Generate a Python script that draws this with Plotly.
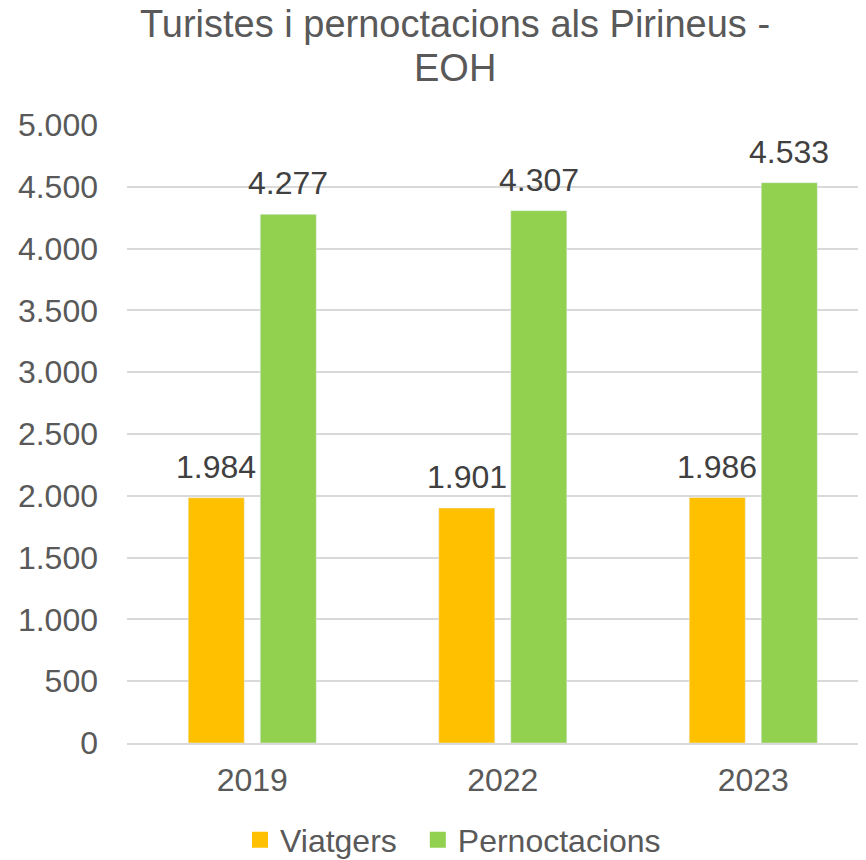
import plotly.graph_objects as go

years = ["2019", "2022", "2023"]
viatgers = [1984, 1901, 1986]
pernoctacions = [4277, 4307, 4533]
viatgers_labels = ["1.984", "1.901", "1.986"]
pernoctacions_labels = ["4.277", "4.307", "4.533"]
tick_vals = [0, 500, 1000, 1500, 2000, 2500, 3000, 3500, 4000, 4500, 5000]
tick_text = ["0", "500", "1.000", "1.500", "2.000", "2.500", "3.000", "3.500", "4.000", "4.500", "5.000"]
title_lines = ["Turistes i pernoctacions als Pirineus -", "EOH"]
series_names = ["Viatgers", "Pernoctacions"]

FONT = "Liberation Sans, Arial, sans-serif"
GREY = "#595959"
DARK = "#404040"
ORANGE = "#FFC000"
GREEN = "#92D050"

# page body has an 8px margin: figure origin sits at (8, 8) in the window
OFF = 8
W, H = 866 - OFF, 860 - OFF
PL, PR, PT, PB = 127 - OFF, 866 - OFF, 125 - OFF, 743 - OFF  # plot area in figure coords
PW, PH = PR - PL, PB - PT


def py(y_screen):
    return (743 - y_screen) / PH


def px(x_screen):
    return (x_screen - 127) / PW


fig = go.Figure()
fig.add_trace(go.Bar(x=years, y=viatgers, name=series_names[0], marker_color=ORANGE, showlegend=False))
fig.add_trace(go.Bar(x=years, y=pernoctacions, name=series_names[1], marker_color=GREEN, showlegend=False))
# legend entries with larger square swatches
legend_labels = [series_names[0] + "\u2002", series_names[1]]
for name, col in zip(legend_labels, [ORANGE, GREEN]):
    fig.add_trace(go.Scatter(x=[None], y=[None], mode="markers", name=name,
                             marker=dict(symbol="square", size=17, color=col)))

annotations = []
for i, (v, lab) in enumerate(zip(viatgers, viatgers_labels)):
    annotations.append(dict(x=i, y=v, text=lab, xref="x", yref="y", showarrow=False,
                            xshift=-36, yshift=11, yanchor="bottom", xanchor="center",
                            font=dict(size=32, color=DARK, family=FONT)))
for i, (v, lab) in enumerate(zip(pernoctacions, pernoctacions_labels)):
    annotations.append(dict(x=i, y=v, text=lab, xref="x", yref="y", showarrow=False,
                            xshift=36, yshift=11, yanchor="bottom", xanchor="center",
                            font=dict(size=32, color=DARK, family=FONT)))
for line, yc in zip(title_lines, [24, 68]):
    annotations.append(dict(text=line, xref="paper", yref="paper", x=px(455), y=py(yc),
                            xanchor="center", yanchor="middle", showarrow=False,
                            font=dict(size=38, color=GREY, family=FONT)))

fig.update_layout(
    width=W, height=H,
    paper_bgcolor="white", plot_bgcolor="white",
    font=dict(family=FONT, color=GREY, size=32),
    margin=dict(l=PL, r=W - PR, t=PT, b=H - PB, autoexpand=False),
    barmode="group", bargap=0.425, bargroupgap=0.222,
    showlegend=True,
    legend=dict(orientation="h", x=px(453), xanchor="center",
                y=py(840), yanchor="middle",
                font=dict(size=32, color=GREY, family=FONT), traceorder="normal"),
    annotations=annotations,
)
fig.update_yaxes(range=[0, 5000], tickvals=tick_vals, ticktext=tick_text,
                 showgrid=True, gridcolor="#D9D9D9", gridwidth=1.5,
                 zeroline=False, showline=False, ticks="", ticklabelstandoff=28,
                 tickfont=dict(size=32, color=GREY))
fig.update_xaxes(type="category", categoryarray=years, categoryorder="array",
                 range=[-0.5, 2.45],
                 showline=True, linecolor="#D9D9D9", linewidth=1.5, ticks="",
                 tickfont=dict(size=32, color=GREY), ticklabelstandoff=8)

fig.write_html("out.html")
